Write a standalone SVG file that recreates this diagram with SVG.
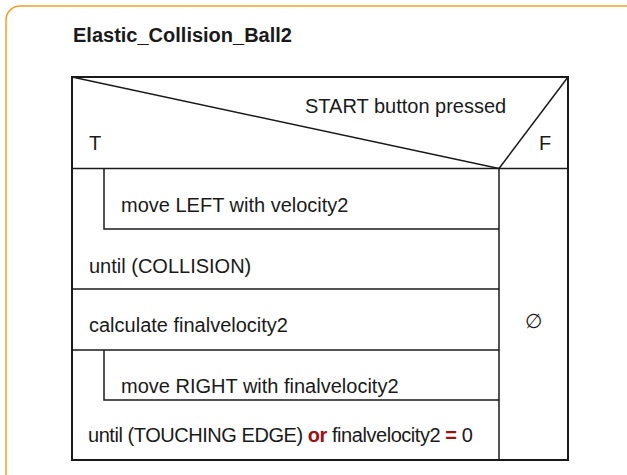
<svg xmlns="http://www.w3.org/2000/svg" width="627" height="475" viewBox="0 0 627 475">
<style>
  .frame { fill: #ffffff; stroke: #F2A024; stroke-width: 1.5; }
  .outer { fill: #ffffff; stroke: #1a1a1a; stroke-width: 2; }
  .ln { stroke: #1a1a1a; stroke-width: 1.5; fill: none; }
  .t { font-family: "Liberation Sans", Arial, sans-serif; font-size: 20px; fill: #1a1a1a; }
  .title { font-family: "Liberation Sans", Arial, sans-serif; font-size: 20px; font-weight: bold; fill: #1a1a1a; }
  .kw { fill: #A01010; font-weight: bold; }
</style>
<rect width="627" height="475" fill="#ffffff"/>
<rect class="frame" x="6" y="6" width="660" height="520" rx="14" ry="14"/>
<text class="title" x="73" y="42">Elastic_Collision_Ball2</text>

<g id="decision">
  <rect class="outer" x="72" y="77" width="496" height="383"/>
  <line class="ln" x1="72" y1="168.5" x2="568" y2="168.5"/>
  <line class="ln" x1="72" y1="77" x2="499" y2="168.5"/>
  <line class="ln" x1="499" y1="168.5" x2="568" y2="77"/>
  <line class="ln" x1="499" y1="168.5" x2="499" y2="460"/>
  <text class="t" x="305" y="113">START button pressed</text>
  <text class="t" x="89" y="150">T</text>
  <text class="t" x="539" y="150">F</text>
</g>

<g id="loop1">
  <polyline class="ln" points="104,168.5 104,229 499,229"/>
  <text class="t" x="121" y="212">move LEFT with velocity2</text>
  <text class="t" x="89" y="273">until (COLLISION)</text>
  <line class="ln" x1="72" y1="289" x2="499" y2="289"/>
</g>

<g id="calc">
  <text class="t" x="89" y="332">calculate finalvelocity2</text>
  <line class="ln" x1="72" y1="350" x2="499" y2="350"/>
</g>

<g id="loop2">
  <polyline class="ln" points="104,350 104,400 499,400"/>
  <text class="t" x="121" y="393">move RIGHT with finalvelocity2</text>
  <text class="t" x="88" y="442" letter-spacing="-0.45">until (TOUCHING EDGE) <tspan class="kw">or</tspan> finalvelocity2 <tspan class="kw">=</tspan> 0</text>
</g>

<g id="false-branch">
  <text class="t" x="533" y="328" text-anchor="middle">∅</text>
</g>

<g id="connectors"></g>
</svg>
